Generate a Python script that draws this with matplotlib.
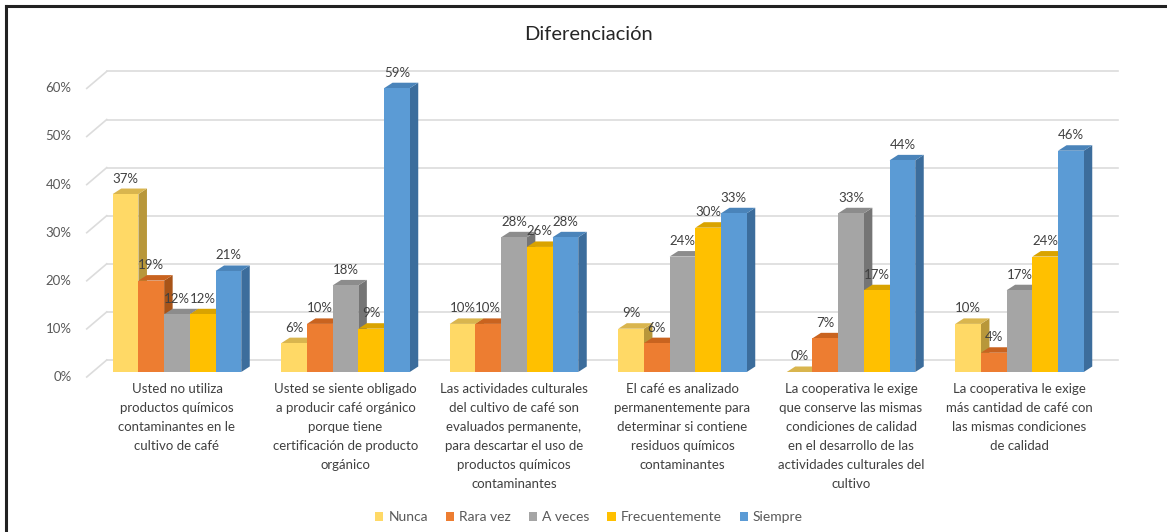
import matplotlib
matplotlib.use("Agg")
import matplotlib.pyplot as plt
from matplotlib.patches import Polygon, Patch
from matplotlib.lines import Line2D

plt.rcParams['font.family'] = ['Lato', 'DejaVu Sans']

# ---------------- data ----------------
categories = [
    "Usted no utiliza\nproductos químicos\ncontaminantes en le\ncultivo de café",
    "Usted se siente obligado\na producir café orgánico\nporque tiene\ncertificación de producto\norgánico",
    "Las actividades culturales\ndel cultivo de café son\nevaluados permanente,\npara descartar el uso de\nproductos químicos\ncontaminantes",
    "El café es analizado\npermanentemente para\ndeterminar si contiene\nresiduos químicos\ncontaminantes",
    "La cooperativa le exige\nque conserve las mismas\ncondiciones de calidad\nen el desarrollo de las\nactividades culturales del\ncultivo",
    "La cooperativa le exige\nmás cantidad de café con\nlas mismas condiciones\nde calidad",
]
series_names = ["Nunca", "Rara vez", "A veces", "Frecuentemente", "Siempre"]
nunca = [0.37, 0.06, 0.10, 0.09, 0.00, 0.10]
rara_vez = [0.19, 0.10, 0.10, 0.06, 0.07, 0.04]
a_veces = [0.12, 0.18, 0.28, 0.24, 0.33, 0.17]
frecuentemente = [0.12, 0.09, 0.26, 0.30, 0.17, 0.24]
siempre = [0.21, 0.59, 0.28, 0.33, 0.44, 0.46]
series_values = [nunca, rara_vez, a_veces, frecuentemente, siempre]
yticks = [0.0, 0.1, 0.2, 0.3, 0.4, 0.5, 0.6]
ytick_labels = ["0%", "10%", "20%", "30%", "40%", "50%", "60%"]

front_colors = ["#FFD966", "#ED7D31", "#A5A5A5", "#FFC000", "#5B9BD5"]
top_colors = ["#D9B54E", "#C9631F", "#8C8C8C", "#D9A300", "#4A84BA"]
side_colors = ["#B8973A", "#A85418", "#757575", "#B88A00", "#3C6D9C"]

# ---------------- figure ----------------
W, H, DPI = 1167, 532, 100
fig = plt.figure(figsize=(W / DPI, H / DPI), dpi=DPI)
fig.patch.set_facecolor("white")

ax_left_px, ax_right_px = 92.75, 1103.75
ax_bottom_px, ax_top_px = 372.0, 83.4   # from top of figure
ax = fig.add_axes([ax_left_px / W, 1 - ax_bottom_px / H,
                   (ax_right_px - ax_left_px) / W, (ax_bottom_px - ax_top_px) / H])
xmin, xmax, ymin, ymax = -0.5, 5.5, 0.0, 0.6
ax.set_xlim(xmin, xmax)
ax.set_ylim(ymin, ymax)
ax.axis("off")

ux = (xmax - xmin) / (ax_right_px - ax_left_px)   # data units per pixel (x)
uy = (ymax - ymin) / (ax_bottom_px - ax_top_px)   # data units per pixel (y)

grid_col = "#DCDCDC"
# back wall gridlines and left slanted edges
for v in yticks:
    ax.plot([xmin + 14 * ux, xmax + 14 * ux], [v + 12 * uy, v + 12 * uy],
            color=grid_col, lw=1.2, zorder=0, clip_on=False)
    ax.plot([xmin - 6 * ux, xmin + 14 * ux], [v - 5 * uy, v + 12 * uy],
            color=grid_col, lw=1.2, zorder=0, clip_on=False)
for v, lab in zip(yticks, ytick_labels):
    ax.text(xmin - 21 * ux, v - 5 * uy, lab, ha="right", va="center",
            fontsize=9.5, color="#595959", clip_on=False)

# bars
nser = len(series_values)
bw = 25.7 * ux
ddx, ddy = 8.5 * ux, 5.5 * uy
z = 2
for gi in range(len(categories)):
    for si in range(nser):
        h = series_values[si][gi]
        x0 = gi + (si - nser / 2) * bw
        x1 = x0 + bw
        side = Polygon([(x1, 0), (x1, h), (x1 + ddx, h + ddy), (x1 + ddx, ddy)],
                       closed=True, facecolor=side_colors[si], edgecolor="none",
                       zorder=z, clip_on=False)
        top = Polygon([(x0, h), (x1, h), (x1 + ddx, h + ddy), (x0 + ddx, h + ddy)],
                      closed=True, facecolor=top_colors[si], edgecolor="none",
                      zorder=z, clip_on=False)
        ax.add_patch(side)
        ax.add_patch(top)
        ax.bar([x0], [h], width=bw, align="edge", color=front_colors[si],
               edgecolor="none", zorder=z + 0.5, clip_on=False)
        z += 1
        ax.text(x0 + bw / 2, h + ddy + 4 * uy, f"{round(h * 100):.0f}%",
                ha="center", va="bottom", fontsize=9.5, color="#404040",
                zorder=200, clip_on=False)

# category labels
for gi, cat in enumerate(categories):
    ax.text(gi, -11 * uy, cat, ha="center", va="top", multialignment="center",
            fontsize=9.5, color="#404040", linespacing=1.70, clip_on=False)

# title
fig.text(588 / W, 1 - 34 / H, "Diferenciación", ha="center", va="center",
         fontsize=14.5, color="#262626")

# legend
handles = [Patch(facecolor=c, edgecolor="none") for c in front_colors]
fig.legend(handles, series_names, loc="center", bbox_to_anchor=(589 / W, 1 - 517 / H),
           ncol=5, frameon=False, fontsize=10, handlelength=0.6, handleheight=0.6,
           handletextpad=0.35, columnspacing=1.3, labelcolor="#595959")

# outer frame (left and top)
fig.add_artist(Line2D([6 / W, 6 / W], [0, 1 - 6 / H], color="#222222", lw=2.2,
                      transform=fig.transFigure))
fig.add_artist(Line2D([6 / W, 1], [1 - 6 / H, 1 - 6 / H], color="#222222", lw=2.2,
                      transform=fig.transFigure))

fig.savefig("out.png", dpi=DPI)
